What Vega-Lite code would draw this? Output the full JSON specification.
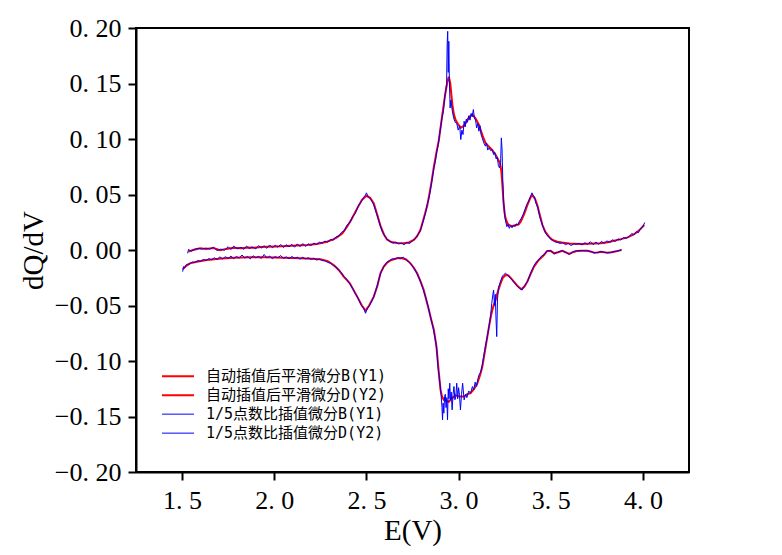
{
  "$schema": "https://vega.github.io/schema/vega-lite/v6.json",
  "description": "dQ/dV curves, smoothed vs 1/5 point interpolation",
  "autosize": "none",
  "width": 553,
  "height": 444,
  "padding": {"left": 136, "top": 28, "right": 93, "bottom": 83},
  "background": "white",
  "datasets": {
    "redB": [
      {"E":1.534,"v":-0.0015},{"E":1.56,"v":0.0},{"E":1.598,"v":0.0015},{"E":1.63,"v":0.001},{"E":1.67,"v":0.0018},
      {"E":1.707,"v":-0.0002},{"E":1.74,"v":0.001},{"E":1.779,"v":0.002},{"E":1.82,"v":0.0015},{"E":1.86,"v":0.0022},
      {"E":1.888,"v":0.002},{"E":1.93,"v":0.0028},{"E":1.96,"v":0.003},{"E":2.01,"v":0.0032},{"E":2.069,"v":0.0036},
      {"E":2.12,"v":0.004},{"E":2.178,"v":0.0045},{"E":2.23,"v":0.0055},{"E":2.286,"v":0.0075},{"E":2.32,"v":0.0095},
      {"E":2.34,"v":0.0114},{"E":2.37,"v":0.015},{"E":2.395,"v":0.021},{"E":2.42,"v":0.028},{"E":2.45,"v":0.0375},
      {"E":2.475,"v":0.045},{"E":2.5,"v":0.0488},{"E":2.52,"v":0.047},{"E":2.54,"v":0.042},{"E":2.56,"v":0.031},
      {"E":2.576,"v":0.022},{"E":2.595,"v":0.014},{"E":2.612,"v":0.0095},{"E":2.635,"v":0.0072},{"E":2.667,"v":0.0064},
      {"E":2.703,"v":0.006},{"E":2.73,"v":0.0068},{"E":2.757,"v":0.009},{"E":2.775,"v":0.0125},{"E":2.793,"v":0.018},
      {"E":2.81,"v":0.028},{"E":2.83,"v":0.04},{"E":2.85,"v":0.058},{"E":2.866,"v":0.075},{"E":2.88,"v":0.088},
      {"E":2.893,"v":0.099},{"E":2.911,"v":0.121},{"E":2.929,"v":0.142},{"E":2.94,"v":0.152},{"E":2.947,"v":0.156},
      {"E":2.955,"v":0.15},{"E":2.966,"v":0.131},{"E":2.975,"v":0.122},{"E":2.984,"v":0.117},{"E":2.995,"v":0.114},
      {"E":3.011,"v":0.11},{"E":3.03,"v":0.112},{"E":3.047,"v":0.117},{"E":3.06,"v":0.12},{"E":3.074,"v":0.122},
      {"E":3.09,"v":0.119},{"E":3.11,"v":0.113},{"E":3.13,"v":0.103},{"E":3.147,"v":0.096},{"E":3.165,"v":0.093},
      {"E":3.183,"v":0.09},{"E":3.2,"v":0.086},{"E":3.21,"v":0.083},{"E":3.225,"v":0.078},{"E":3.232,"v":0.071},
      {"E":3.238,"v":0.058},{"E":3.243,"v":0.044},{"E":3.25,"v":0.033},{"E":3.255,"v":0.0285},{"E":3.265,"v":0.024},
      {"E":3.273,"v":0.0225},{"E":3.29,"v":0.0215},{"E":3.31,"v":0.0225},{"E":3.325,"v":0.023},{"E":3.337,"v":0.0255},
      {"E":3.355,"v":0.032},{"E":3.373,"v":0.0405},{"E":3.39,"v":0.0475},{"E":3.4,"v":0.0495},{"E":3.415,"v":0.046},
      {"E":3.427,"v":0.0405},{"E":3.44,"v":0.032},{"E":3.455,"v":0.0225},{"E":3.47,"v":0.0165},{"E":3.49,"v":0.012},
      {"E":3.51,"v":0.009},{"E":3.536,"v":0.0075},{"E":3.56,"v":0.0068},{"E":3.6,"v":0.0058},{"E":3.663,"v":0.0054},
      {"E":3.7,"v":0.0056},{"E":3.772,"v":0.006},{"E":3.81,"v":0.007},{"E":3.844,"v":0.0084},{"E":3.88,"v":0.0098},
      {"E":3.917,"v":0.0114},{"E":3.95,"v":0.014},{"E":3.971,"v":0.0165},{"E":3.99,"v":0.0195},{"E":4.007,"v":0.0225}
    ],
    "redD": [
      {"E":1.504,"v":-0.0174},{"E":1.52,"v":-0.0145},{"E":1.543,"v":-0.012},{"E":1.58,"v":-0.0105},{"E":1.634,"v":-0.009},
      {"E":1.7,"v":-0.0078},{"E":1.779,"v":-0.0069},{"E":1.87,"v":-0.0065},{"E":1.96,"v":-0.0066},{"E":2.05,"v":-0.0069},
      {"E":2.141,"v":-0.0075},{"E":2.2,"v":-0.0078},{"E":2.25,"v":-0.0084},{"E":2.29,"v":-0.01},{"E":2.322,"v":-0.0135},
      {"E":2.35,"v":-0.018},{"E":2.377,"v":-0.024},{"E":2.41,"v":-0.03},{"E":2.45,"v":-0.042},{"E":2.475,"v":-0.05},
      {"E":2.495,"v":-0.0545},{"E":2.515,"v":-0.05},{"E":2.54,"v":-0.042},{"E":2.56,"v":-0.032},{"E":2.576,"v":-0.021},
      {"E":2.594,"v":-0.015},{"E":2.612,"v":-0.0115},{"E":2.635,"v":-0.009},{"E":2.667,"v":-0.0075},{"E":2.69,"v":-0.0072},
      {"E":2.715,"v":-0.0085},{"E":2.739,"v":-0.012},{"E":2.757,"v":-0.016},{"E":2.775,"v":-0.021},{"E":2.793,"v":-0.028},
      {"E":2.811,"v":-0.036},{"E":2.825,"v":-0.045},{"E":2.839,"v":-0.054},{"E":2.852,"v":-0.063},{"E":2.866,"v":-0.072},
      {"E":2.88,"v":-0.087},{"E":2.887,"v":-0.1},{"E":2.893,"v":-0.111},{"E":2.902,"v":-0.126},{"E":2.91,"v":-0.132},
      {"E":2.92,"v":-0.135},{"E":2.935,"v":-0.136},{"E":2.947,"v":-0.1367},{"E":2.965,"v":-0.1335},{"E":2.984,"v":-0.131},
      {"E":3.005,"v":-0.132},{"E":3.029,"v":-0.132},{"E":3.045,"v":-0.13},{"E":3.065,"v":-0.129},{"E":3.085,"v":-0.125},
      {"E":3.102,"v":-0.12},{"E":3.118,"v":-0.112},{"E":3.129,"v":-0.105},{"E":3.138,"v":-0.096},{"E":3.147,"v":-0.087},
      {"E":3.156,"v":-0.078},{"E":3.165,"v":-0.069},{"E":3.175,"v":-0.06},{"E":3.183,"v":-0.054},{"E":3.192,"v":-0.049},
      {"E":3.201,"v":-0.045},{"E":3.212,"v":-0.038},{"E":3.228,"v":-0.03},{"E":3.24,"v":-0.025},{"E":3.255,"v":-0.0225},
      {"E":3.27,"v":-0.023},{"E":3.285,"v":-0.0255},{"E":3.3,"v":-0.0285},{"E":3.32,"v":-0.0325},{"E":3.34,"v":-0.0354},
      {"E":3.357,"v":-0.033},{"E":3.373,"v":-0.0285},{"E":3.39,"v":-0.022},{"E":3.409,"v":-0.015},{"E":3.435,"v":-0.009},
      {"E":3.463,"v":-0.0045},{"E":3.48,"v":-0.001},{"E":3.5,"v":-0.0008},{"E":3.518,"v":-0.003},{"E":3.54,"v":-0.002},
      {"E":3.563,"v":-0.0008},{"E":3.58,"v":-0.002},{"E":3.6,"v":-0.0036},{"E":3.62,"v":-0.002},{"E":3.645,"v":-0.0008},
      {"E":3.67,"v":-0.0006},{"E":3.7,"v":-0.0006},{"E":3.72,"v":-0.0015},{"E":3.735,"v":-0.0024},{"E":3.755,"v":-0.0022},
      {"E":3.772,"v":-0.0015},{"E":3.79,"v":-0.002},{"E":3.808,"v":-0.0024},{"E":3.83,"v":-0.002},{"E":3.844,"v":-0.0015},
      {"E":3.865,"v":-0.0008},{"E":3.884,"v":0.0}
    ],
    "blueB": [
      {"E":1.53,"v":-0.003},{"E":1.535,"v":0.0005},{"E":1.55,"v":-0.001},{"E":1.57,"v":0.0008},{"E":1.59,"v":0.0015},
      {"E":1.61,"v":0.0008},{"E":1.63,"v":0.0018},{"E":1.65,"v":0.0008},{"E":1.67,"v":0.0025},{"E":1.69,"v":-0.0005},
      {"E":1.71,"v":0.0008},{"E":1.73,"v":-0.0002},{"E":1.75,"v":0.003},{"E":1.765,"v":0.0005},{"E":1.78,"v":0.0035},
      {"E":1.8,"v":0.001},{"E":1.82,"v":0.0025},{"E":1.835,"v":0.0005},{"E":1.85,"v":0.0035},{"E":1.865,"v":0.0012},
      {"E":1.88,"v":0.0028},{"E":1.9,"v":0.001},{"E":1.915,"v":0.004},{"E":1.93,"v":0.0018},{"E":1.945,"v":0.0038},
      {"E":1.96,"v":0.0015},{"E":1.975,"v":0.0045},{"E":1.99,"v":0.002},{"E":2.005,"v":0.0042},{"E":2.02,"v":0.0025},
      {"E":2.035,"v":0.005},{"E":2.05,"v":0.0022},{"E":2.065,"v":0.0048},{"E":2.08,"v":0.0028},{"E":2.095,"v":0.0052},
      {"E":2.11,"v":0.0025},{"E":2.125,"v":0.0055},{"E":2.14,"v":0.003},{"E":2.155,"v":0.0058},{"E":2.17,"v":0.0032},
      {"E":2.185,"v":0.0055},{"E":2.2,"v":0.004},{"E":2.215,"v":0.0062},{"E":2.23,"v":0.005},{"E":2.245,"v":0.007},
      {"E":2.26,"v":0.006},{"E":2.275,"v":0.008},{"E":2.29,"v":0.0072},{"E":2.305,"v":0.0095},{"E":2.32,"v":0.0088},
      {"E":2.335,"v":0.0118},{"E":2.35,"v":0.0125},{"E":2.365,"v":0.016},{"E":2.38,"v":0.0172},{"E":2.395,"v":0.0225},
      {"E":2.41,"v":0.0245},{"E":2.425,"v":0.03},{"E":2.44,"v":0.033},{"E":2.455,"v":0.0395},{"E":2.47,"v":0.043},
      {"E":2.485,"v":0.0475},{"E":2.495,"v":0.0495},{"E":2.5,"v":0.0515},{"E":2.51,"v":0.048},{"E":2.525,"v":0.0455},
      {"E":2.54,"v":0.0405},{"E":2.555,"v":0.033},{"E":2.57,"v":0.0245},{"E":2.585,"v":0.017},{"E":2.6,"v":0.0125},
      {"E":2.615,"v":0.009},{"E":2.63,"v":0.0075},{"E":2.645,"v":0.0062},{"E":2.66,"v":0.007},{"E":2.675,"v":0.0055},
      {"E":2.69,"v":0.0062},{"E":2.705,"v":0.0048},{"E":2.72,"v":0.0068},{"E":2.735,"v":0.0058},{"E":2.75,"v":0.0085},
      {"E":2.765,"v":0.01},{"E":2.78,"v":0.014},{"E":2.79,"v":0.0165},{"E":2.8,"v":0.0215},{"E":2.81,"v":0.027},
      {"E":2.82,"v":0.033},{"E":2.83,"v":0.041},{"E":2.84,"v":0.047},{"E":2.85,"v":0.057},{"E":2.858,"v":0.065},
      {"E":2.866,"v":0.074},{"E":2.874,"v":0.08},{"E":2.882,"v":0.089},{"E":2.89,"v":0.095},{"E":2.897,"v":0.104},
      {"E":2.904,"v":0.112},{"E":2.911,"v":0.12},{"E":2.918,"v":0.125},{"E":2.924,"v":0.137},{"E":2.93,"v":0.143},
      {"E":2.935,"v":0.15},{"E":2.938,"v":0.185},{"E":2.941,"v":0.197},{"E":2.944,"v":0.16},{"E":2.947,"v":0.188},
      {"E":2.95,"v":0.153},{"E":2.954,"v":0.128},{"E":2.958,"v":0.135},{"E":2.962,"v":0.13},{"E":2.968,"v":0.123},
      {"E":2.975,"v":0.118},{"E":2.982,"v":0.115},{"E":2.99,"v":0.114},{"E":2.998,"v":0.108},{"E":3.006,"v":0.112},
      {"E":3.012,"v":0.0995},{"E":3.018,"v":0.108},{"E":3.024,"v":0.104},{"E":3.03,"v":0.116},{"E":3.036,"v":0.111},
      {"E":3.042,"v":0.118},{"E":3.048,"v":0.115},{"E":3.055,"v":0.121},{"E":3.062,"v":0.117},{"E":3.068,"v":0.123},
      {"E":3.074,"v":0.12},{"E":3.08,"v":0.1265},{"E":3.086,"v":0.119},{"E":3.092,"v":0.117},{"E":3.098,"v":0.11},
      {"E":3.104,"v":0.114},{"E":3.11,"v":0.107},{"E":3.116,"v":0.112},{"E":3.122,"v":0.104},{"E":3.13,"v":0.1},
      {"E":3.138,"v":0.096},{"E":3.146,"v":0.0935},{"E":3.152,"v":0.0965},{"E":3.158,"v":0.09},{"E":3.166,"v":0.092},
      {"E":3.174,"v":0.0895},{"E":3.182,"v":0.0905},{"E":3.19,"v":0.086},{"E":3.196,"v":0.088},{"E":3.204,"v":0.082},
      {"E":3.21,"v":0.0835},{"E":3.216,"v":0.076},{"E":3.222,"v":0.074},{"E":3.228,"v":0.079},{"E":3.232,"v":0.101},
      {"E":3.236,"v":0.09},{"E":3.24,"v":0.062},{"E":3.245,"v":0.042},{"E":3.25,"v":0.031},{"E":3.256,"v":0.025},
      {"E":3.262,"v":0.021},{"E":3.268,"v":0.023},{"E":3.275,"v":0.0195},{"E":3.282,"v":0.022},{"E":3.29,"v":0.02},
      {"E":3.298,"v":0.0225},{"E":3.306,"v":0.021},{"E":3.314,"v":0.0235},{"E":3.322,"v":0.0228},{"E":3.33,"v":0.026},
      {"E":3.34,"v":0.0285},{"E":3.35,"v":0.032},{"E":3.36,"v":0.0365},{"E":3.37,"v":0.041},{"E":3.38,"v":0.044},
      {"E":3.39,"v":0.048},{"E":3.398,"v":0.0515},{"E":3.405,"v":0.049},{"E":3.412,"v":0.048},{"E":3.42,"v":0.042},
      {"E":3.43,"v":0.038},{"E":3.44,"v":0.03},{"E":3.45,"v":0.025},{"E":3.46,"v":0.02},{"E":3.47,"v":0.016},
      {"E":3.48,"v":0.013},{"E":3.49,"v":0.012},{"E":3.5,"v":0.0095},{"E":3.51,"v":0.009},{"E":3.52,"v":0.0075},
      {"E":3.535,"v":0.0068},{"E":3.55,"v":0.006},{"E":3.565,"v":0.0065},{"E":3.58,"v":0.0048},{"E":3.595,"v":0.006},
      {"E":3.61,"v":0.004},{"E":3.625,"v":0.0055},{"E":3.64,"v":0.0052},{"E":3.655,"v":0.006},{"E":3.67,"v":0.0045},
      {"E":3.685,"v":0.0065},{"E":3.7,"v":0.005},{"E":3.715,"v":0.0075},{"E":3.73,"v":0.0048},{"E":3.745,"v":0.0072},
      {"E":3.76,"v":0.005},{"E":3.775,"v":0.0078},{"E":3.79,"v":0.006},{"E":3.805,"v":0.0082},{"E":3.82,"v":0.0068},
      {"E":3.835,"v":0.0092},{"E":3.85,"v":0.0078},{"E":3.865,"v":0.01},{"E":3.88,"v":0.009},{"E":3.895,"v":0.0112},
      {"E":3.91,"v":0.0105},{"E":3.925,"v":0.012},{"E":3.94,"v":0.015},{"E":3.95,"v":0.0135},{"E":3.965,"v":0.0165},
      {"E":3.975,"v":0.0155},{"E":3.99,"v":0.02},{"E":4.0,"v":0.021},{"E":4.01,"v":0.0248}
    ],
    "blueD": [
      {"E":1.503,"v":-0.0195},{"E":1.508,"v":-0.015},{"E":1.515,"v":-0.016},{"E":1.525,"v":-0.013},{"E":1.54,"v":-0.0125},
      {"E":1.555,"v":-0.0108},{"E":1.57,"v":-0.0112},{"E":1.585,"v":-0.0095},{"E":1.6,"v":-0.0102},{"E":1.615,"v":-0.0085},
      {"E":1.63,"v":-0.0094},{"E":1.645,"v":-0.0078},{"E":1.66,"v":-0.0088},{"E":1.675,"v":-0.007},{"E":1.69,"v":-0.0085},
      {"E":1.705,"v":-0.0062},{"E":1.72,"v":-0.008},{"E":1.735,"v":-0.006},{"E":1.75,"v":-0.0076},{"E":1.765,"v":-0.0055},
      {"E":1.78,"v":-0.0078},{"E":1.795,"v":-0.0058},{"E":1.81,"v":-0.0074},{"E":1.825,"v":-0.0045},{"E":1.84,"v":-0.0072},
      {"E":1.855,"v":-0.0058},{"E":1.87,"v":-0.008},{"E":1.885,"v":-0.0052},{"E":1.9,"v":-0.007},{"E":1.915,"v":-0.0058},
      {"E":1.93,"v":-0.0076},{"E":1.945,"v":-0.004},{"E":1.96,"v":-0.0072},{"E":1.975,"v":-0.0056},{"E":1.99,"v":-0.0078},
      {"E":2.005,"v":-0.006},{"E":2.02,"v":-0.007},{"E":2.035,"v":-0.005},{"E":2.05,"v":-0.0076},{"E":2.065,"v":-0.0062},
      {"E":2.08,"v":-0.008},{"E":2.095,"v":-0.0058},{"E":2.11,"v":-0.0076},{"E":2.125,"v":-0.0064},{"E":2.14,"v":-0.0082},
      {"E":2.155,"v":-0.0066},{"E":2.17,"v":-0.008},{"E":2.185,"v":-0.007},{"E":2.2,"v":-0.0084},{"E":2.215,"v":-0.0074},
      {"E":2.23,"v":-0.009},{"E":2.245,"v":-0.0082},{"E":2.26,"v":-0.0095},{"E":2.275,"v":-0.0098},{"E":2.29,"v":-0.0112},
      {"E":2.305,"v":-0.0118},{"E":2.32,"v":-0.014},{"E":2.335,"v":-0.015},{"E":2.35,"v":-0.0185},{"E":2.365,"v":-0.0205},
      {"E":2.38,"v":-0.0245},{"E":2.395,"v":-0.0265},{"E":2.41,"v":-0.0305},{"E":2.425,"v":-0.0345},{"E":2.44,"v":-0.0395},
      {"E":2.455,"v":-0.0435},{"E":2.47,"v":-0.049},{"E":2.485,"v":-0.0525},{"E":2.495,"v":-0.057},{"E":2.505,"v":-0.053},
      {"E":2.52,"v":-0.049},{"E":2.535,"v":-0.044},{"E":2.55,"v":-0.037},{"E":2.565,"v":-0.028},{"E":2.58,"v":-0.0195},
      {"E":2.595,"v":-0.015},{"E":2.61,"v":-0.011},{"E":2.625,"v":-0.0095},{"E":2.64,"v":-0.008},{"E":2.655,"v":-0.0082},
      {"E":2.67,"v":-0.0068},{"E":2.685,"v":-0.0078},{"E":2.7,"v":-0.0065},{"E":2.715,"v":-0.0088},{"E":2.73,"v":-0.0105},
      {"E":2.745,"v":-0.0135},{"E":2.76,"v":-0.017},{"E":2.775,"v":-0.0215},{"E":2.79,"v":-0.027},{"E":2.805,"v":-0.034},
      {"E":2.82,"v":-0.042},{"E":2.835,"v":-0.051},{"E":2.85,"v":-0.062},{"E":2.862,"v":-0.07},{"E":2.874,"v":-0.081},
      {"E":2.882,"v":-0.09},{"E":2.888,"v":-0.105},{"E":2.894,"v":-0.113},{"E":2.9,"v":-0.122},{"E":2.905,"v":-0.13},
      {"E":2.91,"v":-0.142},{"E":2.913,"v":-0.153},{"E":2.916,"v":-0.138},{"E":2.92,"v":-0.147},{"E":2.924,"v":-0.132},
      {"E":2.928,"v":-0.13},{"E":2.932,"v":-0.142},{"E":2.936,"v":-0.133},{"E":2.94,"v":-0.153},{"E":2.944,"v":-0.125},
      {"E":2.948,"v":-0.134},{"E":2.952,"v":-0.12},{"E":2.956,"v":-0.135},{"E":2.96,"v":-0.128},{"E":2.965,"v":-0.144},
      {"E":2.97,"v":-0.13},{"E":2.975,"v":-0.123},{"E":2.98,"v":-0.135},{"E":2.985,"v":-0.132},{"E":2.99,"v":-0.12},
      {"E":2.995,"v":-0.134},{"E":3.0,"v":-0.124},{"E":3.005,"v":-0.131},{"E":3.01,"v":-0.144},{"E":3.016,"v":-0.13},
      {"E":3.022,"v":-0.12},{"E":3.03,"v":-0.135},{"E":3.038,"v":-0.13},{"E":3.045,"v":-0.133},{"E":3.055,"v":-0.127},
      {"E":3.065,"v":-0.129},{"E":3.075,"v":-0.123},{"E":3.082,"v":-0.126},{"E":3.09,"v":-0.119},{"E":3.098,"v":-0.123},
      {"E":3.105,"v":-0.116},{"E":3.112,"v":-0.112},{"E":3.12,"v":-0.11},{"E":3.128,"v":-0.104},{"E":3.135,"v":-0.097},
      {"E":3.142,"v":-0.09},{"E":3.15,"v":-0.083},{"E":3.158,"v":-0.076},{"E":3.166,"v":-0.068},{"E":3.174,"v":-0.058},
      {"E":3.18,"v":-0.048},{"E":3.186,"v":-0.04},{"E":3.19,"v":-0.036},{"E":3.195,"v":-0.05},{"E":3.199,"v":-0.04},
      {"E":3.203,"v":-0.062},{"E":3.207,"v":-0.078},{"E":3.211,"v":-0.045},{"E":3.216,"v":-0.034},{"E":3.222,"v":-0.031},
      {"E":3.23,"v":-0.027},{"E":3.238,"v":-0.0235},{"E":3.246,"v":-0.022},{"E":3.255,"v":-0.021},{"E":3.265,"v":-0.0225},
      {"E":3.275,"v":-0.024},{"E":3.29,"v":-0.027},{"E":3.305,"v":-0.03},{"E":3.32,"v":-0.033},{"E":3.335,"v":-0.035},
      {"E":3.345,"v":-0.036},{"E":3.36,"v":-0.032},{"E":3.375,"v":-0.028},{"E":3.39,"v":-0.021},{"E":3.405,"v":-0.0155},
      {"E":3.42,"v":-0.011},{"E":3.435,"v":-0.009},{"E":3.45,"v":-0.0055},{"E":3.465,"v":-0.0042},{"E":3.48,"v":-0.0005},
      {"E":3.495,"v":-0.0005},{"E":3.51,"v":-0.002},{"E":3.52,"v":-0.0035},{"E":3.535,"v":-0.0022},{"E":3.55,"v":-0.0012},
      {"E":3.565,"v":-0.0006},{"E":3.58,"v":-0.0022},{"E":3.6,"v":-0.004},{"E":3.615,"v":-0.0022},{"E":3.63,"v":-0.001},
      {"E":3.645,"v":-0.0006},{"E":3.67,"v":-0.0005},{"E":3.7,"v":-0.0008},{"E":3.72,"v":-0.0016},{"E":3.735,"v":-0.0025},
      {"E":3.755,"v":-0.0022},{"E":3.772,"v":-0.0014},{"E":3.79,"v":-0.002},{"E":3.808,"v":-0.0026},{"E":3.83,"v":-0.002},
      {"E":3.844,"v":-0.0014},{"E":3.865,"v":-0.0008},{"E":3.884,"v":0.0002}
    ]
  },
  "encoding": {
    "x": {
      "field": "E", "type": "quantitative",
      "scale": {"domain": [1.25, 4.25], "nice": false, "zero": false},
      "axis": {
        "title": "E(V)",
        "values": [1.5, 2, 2.5, 3, 3.5, 4],
        "labelExpr": "replace(format(datum.value, '.1f'), '.', '. ')",
        "labelPadding": 7,
        "titlePadding": 3
      }
    },
    "y": {
      "field": "v", "type": "quantitative",
      "scale": {"domain": [-0.2, 0.2], "nice": false, "zero": false},
      "axis": {
        "title": "dQ/dV",
        "values": [-0.2, -0.15, -0.1, -0.05, 0, 0.05, 0.1, 0.15, 0.2],
        "labelExpr": "replace(format(datum.value, '.2f'), '.', '. ')",
        "labelPadding": 7,
        "titlePadding": 6
      }
    },
    "color": {
      "field": "s", "type": "nominal", "title": null,
      "scale": {
        "domain": ["自动插值后平滑微分B(Y1)", "自动插值后平滑微分D(Y2)", "1/5点数比插值微分B(Y1)", "1/5点数比插值微分D(Y2)"],
        "range": ["#ff0000", "#ff0000", "#0000ff", "#0000ff"]
      },
      "legend": {"orient": "none", "legendX": 25, "legendY": 339}
    },
    "strokeWidth": {
      "field": "s", "type": "nominal", "title": null,
      "scale": {
        "type": "ordinal",
        "domain": ["自动插值后平滑微分B(Y1)", "自动插值后平滑微分D(Y2)", "1/5点数比插值微分B(Y1)", "1/5点数比插值微分D(Y2)"],
        "range": [2, 2, 1, 1]
      },
      "legend": {"orient": "none", "legendX": 25, "legendY": 339}
    }
  },
  "layer": [
    {
      "data": {"name": "redB"},
      "transform": [{"calculate": "'自动插值后平滑微分B(Y1)'", "as": "s"}],
      "mark": {"type": "line", "interpolate": "linear"}
    },
    {
      "data": {"name": "redD"},
      "transform": [{"calculate": "'自动插值后平滑微分D(Y2)'", "as": "s"}],
      "mark": {"type": "line", "interpolate": "linear"}
    },
    {
      "data": {"name": "blueB"},
      "transform": [{"calculate": "'1/5点数比插值微分B(Y1)'", "as": "s"}],
      "mark": {"type": "line", "interpolate": "linear"}
    },
    {
      "data": {"name": "blueD"},
      "transform": [{"calculate": "'1/5点数比插值微分D(Y2)'", "as": "s"}],
      "mark": {"type": "line", "interpolate": "linear"}
    }
  ],
  "config": {
    "view": {"stroke": "black", "strokeWidth": 2},
    "axis": {
      "grid": false,
      "domainColor": "black", "domainWidth": 2,
      "tickColor": "black", "tickWidth": 2, "tickSize": 8,
      "labelFont": "Liberation Serif", "labelFontSize": 26, "labelColor": "black",
      "titleFont": "Liberation Serif", "titleFontSize": 29, "titleFontWeight": "normal", "titleColor": "black"
    },
    "legend": {
      "symbolType": "stroke", "symbolSize": 1024,
      "labelFont": "DejaVu Sans Mono, Noto Sans CJK SC", "labelFontSize": 15, "labelColor": "black",
      "labelOffset": 11, "labelLimit": 400, "rowPadding": 0, "clipHeight": 18.3
    }
  }
}
